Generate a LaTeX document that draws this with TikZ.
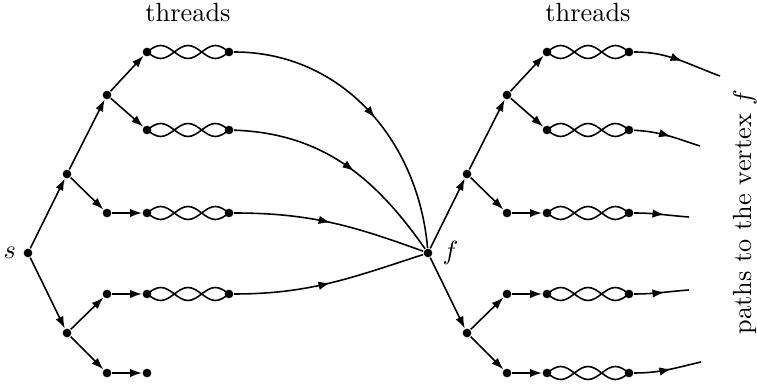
\documentclass[tikz,border=0pt]{standalone}
\usetikzlibrary{arrows.meta,decorations.markings}

% one twisted thread, three lobes long, from a dot to the right
\newcommand{\twine}[1]{%
  \draw (#1.center) sin ++(13.67,-6.5) cos ++(13.67,6.5) sin ++(13.67,6.5)
        cos ++(13.67,-6.5) sin ++(13.67,-6.5) cos ++(13.67,6.5);
  \draw (#1.center) sin ++(13.67,6.5) cos ++(13.67,-6.5) sin ++(13.67,-6.5)
        cos ++(13.67,6.5) sin ++(13.67,6.5) cos ++(13.67,-6.5);}

\begin{document}
\begin{tikzpicture}[
            x=0.38pt, y=-0.38pt,
            line width=0.6pt,
            dot/.style={circle, fill, inner sep=0pt, minimum size=3.3pt},
            branch/.style={-{Latex[length=4.5pt,width=3.2pt]}},
            midarrow/.style={postaction={decorate},
                decoration={markings, mark=at position #1 with {\arrow{Latex[length=4.5pt,width=3.2pt]}}}},
        ]
        \useasboundingbox (0,0) rectangle (757,386);
        % LEFT: tree from s
        \node[dot, label={[label distance=-1pt]left:$s$}] (s) at (28,253) {};
        \node[dot] (a1) at (67,174) {};
        \node[dot] (a2) at (107,95) {};
        \node[dot] (a3) at (147,52) {};
        \node[dot] (a4) at (229,52) {};
        \node[dot] (b1) at (147,130) {};
        \node[dot] (b2) at (229,130) {};
        \node[dot] (c1) at (107,213) {};
        \node[dot] (c2) at (147,213) {};
        \node[dot] (c3) at (229,213) {};
        \node[dot] (d1) at (67,333) {};
        \node[dot] (d2) at (107,294) {};
        \node[dot] (d3) at (147,294) {};
        \node[dot] (d4) at (229,294) {};
        \node[dot] (e1) at (107,373) {};
        \node[dot] (e2) at (147,373) {};
        \draw[branch] (s) -- (a1);
        \draw[branch] (a1) -- (a2);
        \draw[branch] (a2) -- (a3);
        \draw[branch] (a2) -- (b1);
        \draw[branch] (a1) -- (c1);
        \draw[branch] (c1) -- (c2);
        \draw[branch] (s) -- (d1);
        \draw[branch] (d1) -- (d2);
        \draw[branch] (d2) -- (d3);
        \draw[branch] (d1) -- (e1);
        \draw[branch] (e1) -- (e2);
        \twine{a3} \twine{b1} \twine{c2} \twine{d3}
        \node (thrL) at (188,13) {threads};
        % MIDDLE: everything meets in f
        \node[dot, label=right:$f$] (f) at (428,253) {};
        \draw[midarrow=0.53] (a4) to[out=0, in=95] (f);
        \draw[midarrow=0.55] (b2) to[out=-2, in=125] (f);
        \draw[midarrow=0.5] (c3) to[out=0, in=160] (f);
        \draw[midarrow=0.5] (d4) to[out=0, in=198] (f);
        % RIGHT: same tree again, from f
        \node[dot] (g1) at (467,174) {};
        \node[dot] (g2) at (507,95) {};
        \node[dot] (g3) at (547,52) {};
        \node[dot] (g4) at (629,52) {};
        \node[dot] (h1) at (547,130) {};
        \node[dot] (h2) at (629,130) {};
        \node[dot] (i1) at (507,213) {};
        \node[dot] (i2) at (547,213) {};
        \node[dot] (i3) at (629,213) {};
        \node[dot] (j1) at (467,333) {};
        \node[dot] (j2) at (507,294) {};
        \node[dot] (j3) at (547,294) {};
        \node[dot] (j4) at (629,294) {};
        \node[dot] (k1) at (507,373) {};
        \node[dot] (k2) at (547,373) {};
        \node[dot] (k3) at (629,373) {};
        \draw[branch] (f) -- (g1);
        \draw[branch] (g1) -- (g2);
        \draw[branch] (g2) -- (g3);
        \draw[branch] (g2) -- (h1);
        \draw[branch] (g1) -- (i1);
        \draw[branch] (i1) -- (i2);
        \draw[branch] (f) -- (j1);
        \draw[branch] (j1) -- (j2);
        \draw[branch] (j2) -- (j3);
        \draw[branch] (j1) -- (k1);
        \draw[branch] (k1) -- (k2);
        \twine{g3} \twine{h1} \twine{i2} \twine{j3} \twine{k2}
        \node (thrR) at (588,13) {threads};
        % loose ends, going on to the vertex f
        \coordinate (r1) at (720,76);
        \coordinate (r2) at (700,146);
        \coordinate (r3) at (689,217);
        \coordinate (r4) at (689,290);
        \coordinate (r5) at (701,362);
        \draw[midarrow=0.55] (g4) to[out=0, in=160] (r1);
        \draw[midarrow=0.55] (h2) to[out=-3, in=162] (r2);
        \draw[midarrow=0.55] (i3) to[out=0, in=176] (r3);
        \draw[midarrow=0.55] (j4) to[out=0, in=184] (r4);
        \draw[midarrow=0.55] (k3) to[out=0, in=193] (r5);
        \node[rotate=90] (paths) at (745,212) {paths to the vertex $f$};
        \end{tikzpicture}
\end{document}
